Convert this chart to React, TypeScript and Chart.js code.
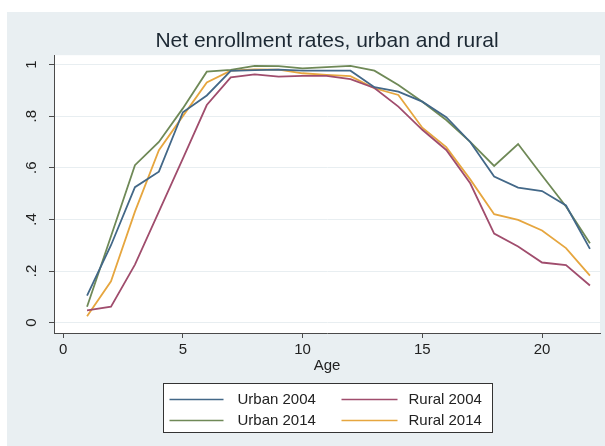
import React, { useEffect, useRef } from 'react';
import { Chart, registerables } from 'chart.js';

Chart.register(...registerables);

// Net enrollment rate by single year of age
const ages = [1, 2, 3, 4, 5, 6, 7, 8, 9, 10, 11, 12, 13, 14, 15, 16, 17, 18, 19, 20, 21, 22];
const urban2004 = [0.105, 0.3, 0.525, 0.585, 0.815, 0.88, 0.975, 0.978, 0.98, 0.976, 0.976, 0.976, 0.912, 0.895, 0.856, 0.796, 0.7, 0.566, 0.523, 0.51, 0.454, 0.286];
const urban2014 = [0.062, 0.335, 0.61, 0.7, 0.83, 0.972, 0.979, 0.995, 0.994, 0.985, 0.99, 0.995, 0.976, 0.921, 0.856, 0.785, 0.7, 0.607, 0.692, 0.57, 0.45, 0.308];
const rural2004 = [0.048, 0.062, 0.225, 0.43, 0.635, 0.843, 0.95, 0.962, 0.953, 0.956, 0.956, 0.943, 0.909, 0.837, 0.747, 0.669, 0.54, 0.345, 0.295, 0.233, 0.223, 0.144];
const rural2014 = [0.025, 0.16, 0.43, 0.668, 0.8, 0.93, 0.976, 0.981, 0.98, 0.966, 0.96, 0.955, 0.908, 0.882, 0.755, 0.68, 0.555, 0.42, 0.398, 0.357, 0.289, 0.182];

const seriesLabels = ['Urban 2004', 'Urban 2014', 'Rural 2004', 'Rural 2014'];
const seriesValues = [urban2004, urban2014, rural2004, rural2014];
const seriesColors = ['#436888', '#6f8957', '#a04d6d', '#e6a63f'];

const xTickValues = [0, 5, 10, 15, 20];
const yTickValues = [0, 0.2, 0.4, 0.6, 0.8, 1];
const yTickLabels = ['0', '.2', '.4', '.6', '.8', '1'];

const FONT = "'Liberation Sans', Arial, Helvetica, sans-serif";
const PAGE_BG = '#e9eff2';
const TEXT = '#222222';
const AXIS = '#4a4a4a';

// Fills the graph background and the white plot region
const backgroundPlugin = {
  id: 'stataBackground',
  beforeDraw(chart: any) {
    const { ctx, chartArea, width, height } = chart;
    ctx.save();
    ctx.fillStyle = PAGE_BG;
    ctx.fillRect(0, 0, width, height);
    ctx.fillStyle = '#ffffff';
    ctx.fillRect(chartArea.left, chartArea.top, chartArea.right - chartArea.left, chartArea.bottom - chartArea.top);
    ctx.restore();
  },
};

// Boxed two-column legend centred under the plot region
const boxLegendPlugin = {
  id: 'boxLegend',
  afterDraw(chart: any) {
    const { ctx, chartArea } = chart;
    const cx = (chartArea.left + chartArea.right) / 2;
    const boxW = 329;
    const boxH = 49;
    const left = Math.round(cx - boxW / 2) + 0.5;
    const top = 371.5;
    ctx.save();
    ctx.fillStyle = '#ffffff';
    ctx.fillRect(left, top, boxW, boxH);
    ctx.strokeStyle = '#333333';
    ctx.lineWidth = 1;
    ctx.strokeRect(left, top, boxW, boxH);
    ctx.font = `15px ${FONT}`;
    ctx.textBaseline = 'middle';
    ctx.textAlign = 'left';
    const cols = [
      { lineX: 6, lineW: 54, textX: 74 },
      { lineX: 178, lineW: 56, textX: 245 },
    ];
    const rows = [15.5, 36.5];
    chart.data.datasets.forEach((ds: any, i: number) => {
      const col = cols[i < 2 ? 0 : 1];
      const y = Math.round(top + rows[i % 2]) + 0.5;
      ctx.strokeStyle = ds.borderColor;
      ctx.lineWidth = 1.3;
      ctx.beginPath();
      ctx.moveTo(left + col.lineX, y);
      ctx.lineTo(left + col.lineX + col.lineW, y);
      ctx.stroke();
      ctx.fillStyle = TEXT;
      ctx.fillText(ds.label, left + col.textX, y + 0.5);
    });
    ctx.restore();
  },
};

export default function App() {
  const canvasRef = useRef<HTMLCanvasElement | null>(null);

  useEffect(() => {
    const canvas = canvasRef.current;
    if (!canvas) return;
    const chart = new Chart(canvas, {
      type: 'line',
      data: {
        datasets: seriesLabels.map((label, i) => ({
          label,
          data: ages.map((a, j) => ({ x: a, y: seriesValues[i][j] })),
          borderColor: seriesColors[i],
          backgroundColor: seriesColors[i],
          borderWidth: 1.8,
          pointRadius: 0,
          tension: 0,
          fill: false,
        })),
      },
      options: {
        responsive: false,
        maintainAspectRatio: false,
        devicePixelRatio: 1,
        animation: false,
        events: [],
        layout: { padding: { top: 0, left: 0, right: 5, bottom: 71 } },
        plugins: {
          legend: { display: false },
          tooltip: { enabled: false },
          title: {
            display: true,
            text: 'Net enrollment rates, urban and rural',
            color: '#1c2833',
            fullSize: false,
            font: { family: FONT, size: 21, weight: 'normal' },
            padding: { top: 17, bottom: 1 },
          },
        },
        scales: {
          x: {
            type: 'linear',
            min: -0.38,
            max: 22.42,
            afterBuildTicks: (s: any) => {
              s.ticks = xTickValues.map((v) => ({ value: v }));
            },
            afterFit: (s: any) => {
              s.height = 42;
            },
            ticks: {
              color: TEXT,
              font: { family: FONT, size: 15 },
              padding: 3,
              maxRotation: 0,
              minRotation: 0,
              callback: (v: any) => String(v),
            },
            grid: {
              drawOnChartArea: false,
              drawTicks: true,
              tickLength: 5,
              tickColor: AXIS,
              tickWidth: 1,
            },
            border: { display: true, color: AXIS, width: 1 },
            title: {
              display: true,
              text: 'Age',
              color: TEXT,
              font: { family: FONT, size: 15 },
              padding: { top: 0, bottom: 0 },
            },
          },
          y: {
            type: 'linear',
            min: -0.04,
            max: 1.036,
            afterBuildTicks: (s: any) => {
              s.ticks = yTickValues.map((v) => ({ value: v }));
            },
            afterFit: (s: any) => {
              s.width = 47;
            },
            ticks: {
              color: TEXT,
              font: { family: FONT, size: 15 },
              padding: 10.5,
              minRotation: 90,
              maxRotation: 90,
              crossAlign: 'center',
              callback: (v: any) => {
                const k = yTickValues.findIndex((t) => Math.abs(t - Number(v)) < 1e-9);
                return k >= 0 ? yTickLabels[k] : '';
              },
            },
            grid: {
              color: '#e8eef1',
              lineWidth: 1,
              drawTicks: true,
              tickLength: 5,
              tickColor: AXIS,
              tickWidth: 1,
            },
            border: { display: true, color: AXIS, width: 1 },
          },
        },
      } as any,
      plugins: [backgroundPlugin, boxLegendPlugin],
    });
    return () => chart.destroy();
  }, []);

  return (
    <div style={{ position: 'absolute', left: 7, top: 12, width: 598, height: 434, background: PAGE_BG }}>
      <canvas ref={canvasRef} width={598} height={434} style={{ display: 'block', width: 598, height: 434 }} />
    </div>
  );
}
